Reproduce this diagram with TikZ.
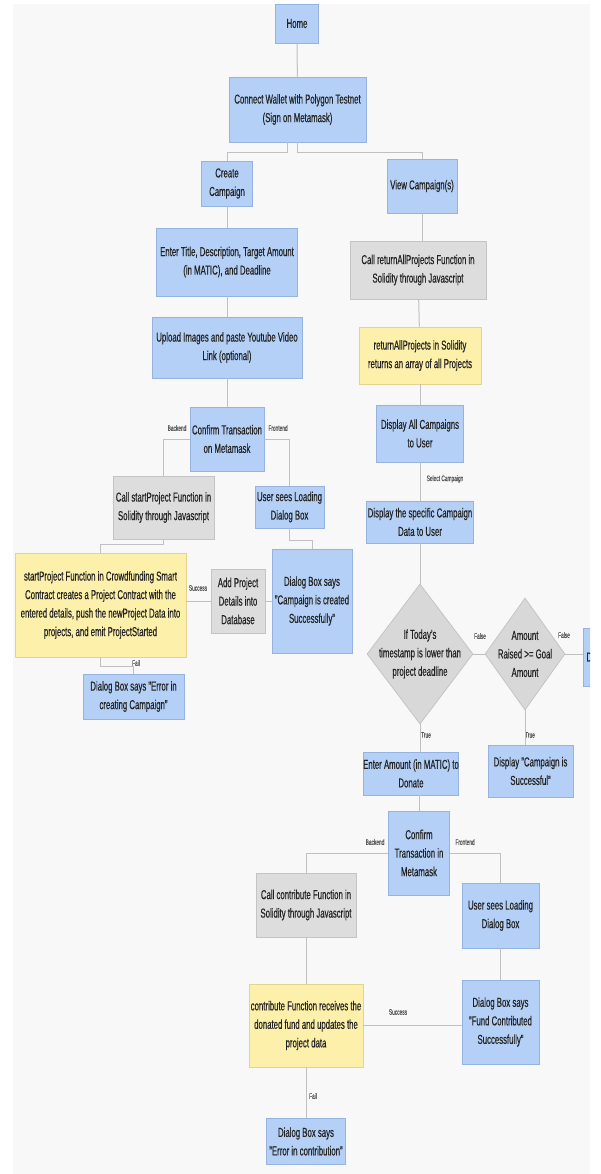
\documentclass[tikz,border=0pt]{standalone}
\usepackage{fontspec}
\setmainfont{Liberation Sans}[FakeStretch=0.6,FakeBold=0.4]
\usetikzlibrary{shapes.geometric}
\definecolor{bgc}{RGB}{248,248,248}
\definecolor{bfill}{RGB}{180,208,246}
\definecolor{bdraw}{RGB}{150,178,222}
\definecolor{gfill}{RGB}{221,221,221}
\definecolor{gdraw}{RGB}{196,196,196}
\definecolor{yfill}{RGB}{253,240,170}
\definecolor{ydraw}{RGB}{226,212,142}
\definecolor{dfill}{RGB}{216,216,216}
\definecolor{ddraw}{RGB}{196,196,196}
\definecolor{txt}{RGB}{35,35,35}
\definecolor{lblc}{RGB}{85,85,85}
\definecolor{connc}{RGB}{192,192,192}
\begin{document}
\begin{tikzpicture}[x=1pt,y=-1pt,
  base/.style={rectangle, inner sep=0pt, align=center, font=\fontsize{13}{18.5}\selectfont, text=txt, line width=0.8pt},
  sz/.style 2 args={minimum width=#1pt, minimum height=#2pt},
  bluebox/.style={base, fill=bfill, draw=bdraw},
  graybox/.style={base, fill=gfill, draw=gdraw},
  yelbox/.style={base, fill=yfill, draw=ydraw},
  dia/.style={diamond, fill=dfill, draw=ddraw, inner sep=0pt, line width=0.8pt},
  lbl/.style={font=\fontsize{8}{9}\selectfont, text=lblc, inner sep=0pt},
  conn/.style={draw=connc, line width=1pt}]
\useasboundingbox (0,0) rectangle (600,1174);
\fill[bgc] (13,4) rectangle (590,1174);

% left branch
\node[bluebox, sz={43}{39}] (home) at (297,23.5) {Home};
\node[bluebox, sz={137}{65}] (connect) at (297.5,109.5) {Connect Wallet with Polygon Testnet\\(Sign on Metamask)};
\node[bluebox, sz={51}{45}] (create) at (227,183.5) {Create\\Campaign};
\node[bluebox, sz={70}{54}] (view) at (422,186) {View Campaign(s)};
\node[bluebox, sz={141}{68}] (enter) at (227,262) {Enter Title, Description, Target Amount\\(in MATIC), and Deadline};
\node[bluebox, sz={150}{61}] (upload) at (227,347.5) {Upload Images and paste Youtube Video\\Link (optional)};
\node[bluebox, sz={74}{64}] (confirm1) at (227,439) {Confirm Transaction\\on Metamask};
\node[graybox, sz={101}{63}] (callstart) at (163.5,507.5) {Call startProject Function in\\Solidity through Javascript};
\node[bluebox, sz={69}{42}] (userload) at (289.5,507) {User sees Loading\\Dialog Box};
\node[yelbox, sz={171}{104}] (startproj) at (100.5,605) {startProject Function in Crowdfunding Smart\\Contract creates a Project Contract with the\\entered details, push the newProject Data into\\projects, and emit ProjectStarted};
\node[graybox, sz={54}{64}] (addproj) at (238,601) {Add Project\\Details into\\Database};
\node[bluebox, sz={80}{104}] (dlgcreated) at (312,601) {Dialog Box says\\"Campaign is created\\Successfully"};
\node[bluebox, sz={101}{45}] (errcreate) at (133.5,696.5) {Dialog Box says "Error in\\creating Campaign"};

% right branch
\node[graybox, sz={136}{58}] (callret) at (418,270) {Call returnAllProjects Function in\\Solidity through Javascript};
\node[yelbox, sz={122}{57}] (retyel) at (420,355.5) {returnAllProjects in Solidity\\returns an array of all Projects};
\node[bluebox, sz={87}{57}] (dispall) at (420,433.5) {Display All Campaigns\\to User};
\node[bluebox, sz={107}{42}] (specific) at (420,522) {Display the specific Campaign\\Data to User};
\node[dia, minimum width=106pt, minimum height=140pt,
  label={[base]center:If Today's\\timestamp is lower than\\project deadline}] (d1) at (420,654) {};
\node[dia, minimum width=80pt, minimum height=112pt,
  label={[base]center:Amount\\Raised >= Goal\\Amount}] (d2) at (525,654) {};
\begin{scope}
\clip (0,0) rectangle (590,1174);
\node[bluebox, sz={37}{58}, text width=30pt, align=left] (cut) at (601.5,657) {D};
\end{scope}
\node[bluebox, sz={88}{43}] (enteramt) at (411,773.5) {Enter Amount (in MATIC) to\\Donate};
\node[bluebox, sz={85}{52}] (dispsucc) at (530.5,771) {Display "Campaign is\\Successful"};
\node[bluebox, sz={61}{84}] (confirm2) at (419,853) {Confirm\\Transaction in\\Metamask};
\node[graybox, sz={100}{64}] (callcontrib) at (306,905) {Call contribute Function in\\Solidity through Javascript};
\node[bluebox, sz={77}{65}] (userload2) at (500.5,915.5) {User sees Loading\\Dialog Box};
\node[bluebox, sz={77}{84}] (dlgfund) at (500.5,1022) {Dialog Box says\\"Fund Contributed\\Successfully"};
\node[yelbox, sz={114}{83}] (contrib) at (306,1025.5) {contribute Function receives the\\donated fund and updates the\\project data};
\node[bluebox, sz={79}{46}] (err2) at (306,1141.5) {Dialog Box says\\"Error in contribution"};

% labels
\node[lbl] (lbk1) at (177,428) {Backend};
\node[lbl] (lfr1) at (278,428) {Frontend};
\node[lbl] (lsel) at (445,479) {Select Campaign};
\node[lbl] (lsuc1) at (198,588) {Success};
\node[lbl] (lfail1) at (136,663) {Fail};
\node[lbl] (lfalse1) at (480,636) {False};
\node[lbl] (lfalse2) at (564,635) {False};
\node[lbl] (ltrue1) at (426,735) {True};
\node[lbl] (ltrue2) at (530,735) {True};
\node[lbl] (lbk2) at (375,842) {Backend};
\node[lbl] (lfr2) at (465,842) {Frontend};
\node[lbl] (lsuc2) at (398,1012) {Success};
\node[lbl] (lfail2) at (313,1096) {Fail};

% connectors
\draw[conn] (home) -- (connect);
\draw[conn] ([xshift=-10pt]connect.south) -- ++(0,10) -| (create.north);
\draw[conn] (connect.south) -- ++(0,10) -| (view.north);
\draw[conn] (create) -- (enter);
\draw[conn] (enter) -- (upload);
\draw[conn] (upload) -- (confirm1);
\draw[conn] (confirm1.west) -| (callstart.north);
\draw[conn] (confirm1.east) -| (userload.north);
\draw[conn] (callstart.south) -- ++(0,5) -| (startproj.north);
\draw[conn] (addproj.west) -- (addproj.west -| startproj.east);
\draw[conn] (addproj.east) -- (addproj.east -| dlgcreated.west);
\draw[conn] (userload.south) -- ++(0,12) -| (dlgcreated.north);
\draw[conn] (startproj.south) -- ++(0,9) -| (errcreate.north);

\draw[conn] (view.south) -- (view.south |- callret.north);
\draw[conn] (callret) -- (retyel);
\draw[conn] (retyel) -- (dispall);
\draw[conn] (dispall) -- (specific);
\draw[conn] (specific) -- (d1);
\draw[conn] (d1.east) -- (d2.west);
\draw[conn] (d2.east) -- (d2.east -| cut.west);
\draw[conn] (d1.south) -- (d1.south |- enteramt.north);
\draw[conn] (d2.south) -- (d2.south |- dispsucc.north);
\draw[conn] (confirm2.north) -- (confirm2.north |- enteramt.south);
\draw[conn] (confirm2.west) -| (callcontrib.north);
\draw[conn] (confirm2.east) -| (userload2.north);
\draw[conn] (userload2) -- (dlgfund);
\draw[conn] (callcontrib) -- (contrib);
\draw[conn] (contrib.east) -- (contrib.east -| dlgfund.west);
\draw[conn] (contrib) -- (err2);
\end{tikzpicture}
\end{document}
